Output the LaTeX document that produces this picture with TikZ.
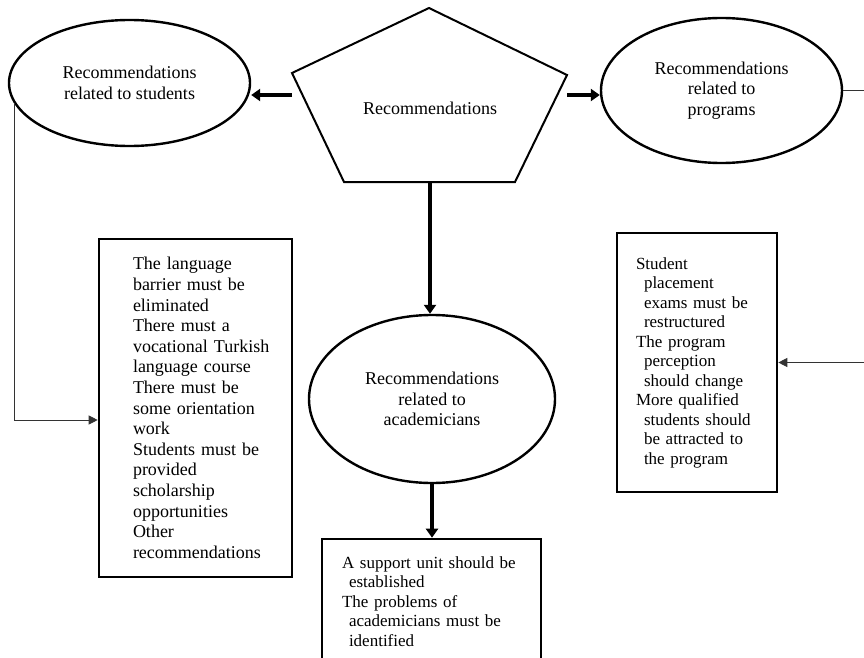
\documentclass[tikz,border=0pt]{standalone}
\usepackage{fontspec}
\setmainfont{Liberation Serif}
\usetikzlibrary{arrows.meta, calc, positioning, shapes.geometric}

\tikzset{
  oval/.style={ellipse, draw, line width=2.4pt, align=center, inner sep=0pt, font=\fontsize{18}{20.6}\selectfont},
  listbox/.style={rectangle, draw, line width=2.6pt, align=left, inner xsep=6pt, inner ysep=0pt},
  bigarrow/.style={line width=3.6pt, -{Triangle[length=9pt,width=12pt]}},
  thinarrow/.style={line width=0.9pt, black!80, -{Triangle[length=9pt,width=9pt]}}
}

\begin{document}
\begin{tikzpicture}[x=1pt,y=-1pt]
\useasboundingbox (0,0) rectangle (864,658);

% Central pentagon
\draw[line width=2pt, line join=miter] (429,8) -- (567,75) -- (515,182) -- (344,182) -- (292,73) -- cycle;
\node[font=\fontsize{18}{20.6}\selectfont] (rec) at (430,108) {Recommendations};
\coordinate (penW) at (292,95);
\coordinate (penE) at (567,95);
\coordinate (penS) at (430,182);

% Three groups
\node[oval, minimum width=241pt, minimum height=126pt] (stud) at (129.5,83) {Recommendations\\related to students};
\node[oval, minimum width=241pt, minimum height=145pt] (prog) at (721.5,90.5) {Recommendations\\related to\\programs};
\node[oval, minimum width=246pt, minimum height=168pt] (acad) at (432,399) {Recommendations\\related to\\academicians};

% Lists
\node[listbox, text width=181pt, minimum height=338pt, font=\fontsize{18}{20.6}\selectfont] (sbox) at (195.5,408)
  {\leftskip=28pt The language\\barrier must be\\eliminated\\There must a\\vocational Turkish\\language course\\There must be\\some orientation\\work\\Students must be\\provided\\scholarship\\opportunities\\Other\\recommendations\par};
\node[listbox, text width=148pt, minimum height=259pt, font=\fontsize{17}{19.5}\selectfont] (pbox) at (697,362.5)
  {\leftskip=13pt Student\\\hspace*{8pt}placement\\\hspace*{8pt}exams must be\\\hspace*{8pt}restructured\\The program\\\hspace*{8pt}perception\\\hspace*{8pt}should change\\More qualified\\\hspace*{8pt}students should\\\hspace*{8pt}be attracted to\\\hspace*{8pt}the program\par};
\node[listbox, text width=207pt, minimum height=125pt, font=\fontsize{17}{19.4}\selectfont] (abox) at (431.5,601.5)
  {\leftskip=14pt A support unit should be\\\hspace*{7pt}established\\The problems of\\\hspace*{7pt}academicians must be\\\hspace*{7pt}identified\par};

% Connectors
\draw[bigarrow] (penW) -- (stud.east |- penW);
\draw[bigarrow] (penE) -- (prog.west |- penE);
\draw[bigarrow] (penS) -- (penS |- acad.north);
\draw[bigarrow] (acad.south) -- (acad.south |- abox.north);
\draw[thinarrow] (stud.190) |- ([yshift=-12pt]sbox.west);
\draw[thinarrow] (prog.east) -- ++(30,0) |- (pbox.east);
\end{tikzpicture}
\end{document}
